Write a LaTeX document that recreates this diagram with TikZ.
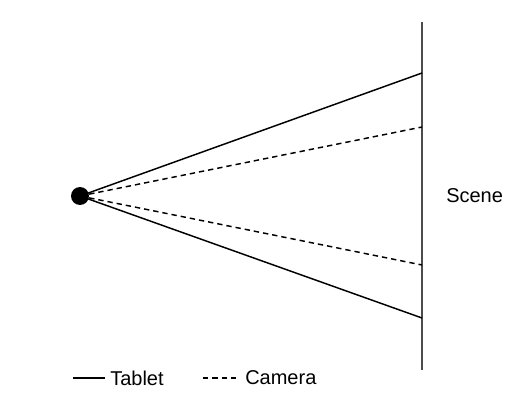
\documentclass[tikz,border=0pt]{standalone}
\usepackage{fontspec}
\setmainfont{Liberation Sans}
\begin{document}
\begin{tikzpicture}[x=0.75pt, y=-0.75pt,
  ray/.style={line width=1.1pt},
  camray/.style={line width=1.1pt, dash pattern=on 4pt off 3pt},
  lab/.style={font=\fontsize{15}{18}\selectfont, inner sep=0pt}]
  \useasboundingbox (0,0) rectangle (532,417);
  % camera centre
  \node[circle, fill=black, inner sep=0pt, minimum size=13.5pt] (eye) at (80,196) {};
  % draw the scene plane
  \coordinate (top) at (422,22);
  \coordinate (bot) at (422,370);
  \draw[line width=1.1pt, gray!60!black] (top) -- (bot);
  \node[lab, anchor=west] (scene) at (446,196) {Scene};
  % field of view of the tablet
  \coordinate (t1) at (422,73);
  \coordinate (t2) at (422,318);
  \draw[ray] (eye.center) -- (t1);
  \draw[ray] (eye.center) -- (t2);
  % field of view of the camera
  \coordinate (c1) at (422,127);
  \coordinate (c2) at (422,265);
  \draw[camray] (eye.center) -- (c1);
  \draw[camray] (eye.center) -- (c2);
  % legend
  \coordinate (l1) at (73,378);
  \coordinate (l2) at (105,378);
  \draw[ray] (l1) -- (l2);
  \node[lab, anchor=west] (tablet) at (110,378) {Tablet};
  \coordinate (l3) at (203,378);
  \coordinate (l4) at (237,378);
  \draw[camray] (l3) -- (l4);
  \node[lab, anchor=west] (camera) at (245,378) {Camera};
\end{tikzpicture}
\end{document}
